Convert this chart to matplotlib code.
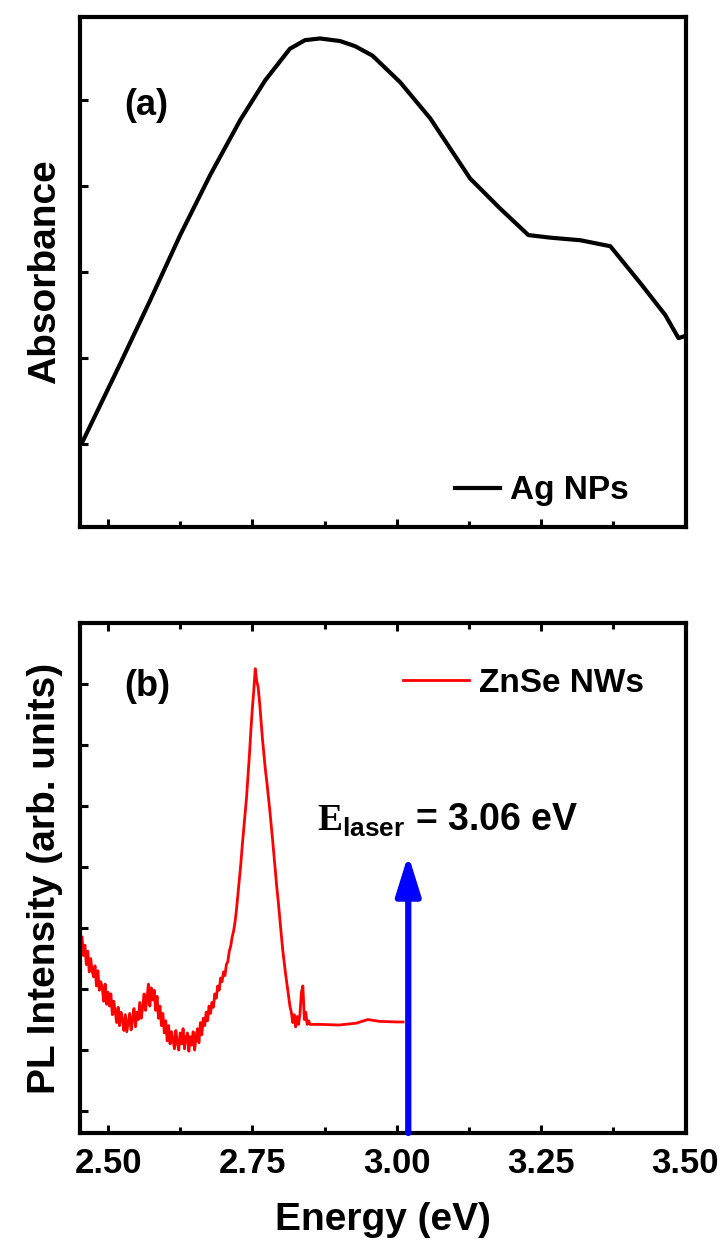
import numpy as np
import matplotlib
matplotlib.use("Agg")
import matplotlib.pyplot as plt
from matplotlib.ticker import MultipleLocator, FormatStrFormatter

plt.rcParams["font.family"] = ["Liberation Sans", "DejaVu Sans"]
plt.rcParams["font.weight"] = "bold"
plt.rcParams["axes.labelweight"] = "bold"
plt.rcParams["mathtext.fontset"] = "custom"
plt.rcParams["mathtext.rm"] = "Liberation Serif"
plt.rcParams["mathtext.bf"] = "Liberation Sans:bold"

# (a) absorbance of Ag NPs
ag_energy = [2.455, 2.521, 2.573, 2.625, 2.677, 2.729, 2.772, 2.815, 2.841, 2.867,
             2.902, 2.928, 2.958, 3.006, 3.058, 3.127, 3.179, 3.228, 3.266, 3.318,
             3.370, 3.422, 3.465, 3.488, 3.502]
ag_abs = [0.01, 0.93, 1.67, 2.43, 3.13, 3.77, 4.23, 4.60, 4.70, 4.72,
          4.69, 4.63, 4.52, 4.21, 3.79, 3.09, 2.74, 2.43, 2.40, 2.37,
          2.30, 1.87, 1.50, 1.23, 1.26]

# (b) PL of ZnSe NWs: noisy part read every 2.5 meV from 2.455 to 2.850 eV
pl_noisy = [2.85, 2.55, 2.72, 2.40, 2.62, 2.28, 2.50, 2.30, 2.20, 2.38,
            2.05, 2.30, 1.98, 2.12, 2.02, 1.80, 2.08, 1.75, 1.95,
            1.72, 1.92, 1.58, 1.80, 1.62, 1.45, 1.70, 1.40, 1.62, 1.50,
            1.32, 1.58, 1.30, 1.45, 1.60, 1.33, 1.52, 1.68, 1.38, 1.62,
            1.50, 1.78, 1.52, 1.70, 1.92, 1.65, 1.85, 2.08, 1.72, 2.02,
            1.82, 1.98, 1.65, 1.88, 1.52, 1.72, 1.40, 1.60, 1.28, 1.48,
            1.15, 1.40, 1.10, 1.30, 1.18, 1.02, 1.32, 1.12, 1.00, 1.28,
            1.10, 1.35, 1.02, 1.20, 1.28, 0.98, 1.22, 1.08, 1.30, 1.00,
            1.22, 1.35, 1.12, 1.45, 1.25, 1.52, 1.40, 1.62, 1.48, 1.72,
            1.60, 1.78, 1.70, 1.92, 1.85, 2.05, 1.98, 2.18, 2.12, 2.28,
            2.22, 2.40, 2.45, 2.62, 2.70, 2.85, 2.95, 3.10, 3.30, 3.55,
            3.80, 4.05, 4.35, 4.62, 4.90, 5.15, 5.50, 5.85, 6.25, 6.60,
            6.90, 7.25, 7.05, 6.95, 6.70, 6.40, 6.10, 5.85, 5.60, 5.40,
            5.18, 4.95, 4.70, 4.45, 4.18, 3.90, 3.65, 3.42, 3.15, 2.90,
            2.65, 2.45, 2.25, 2.08, 1.90, 1.72, 1.62, 1.45, 1.58, 1.38,
            1.55, 1.42, 1.60, 1.95, 2.05, 1.50, 1.62, 1.42, 1.48, 1.42]
pl_energy_noisy = np.linspace(2.455, 2.850, len(pl_noisy))
pl_energy_tail = [2.87, 2.90, 2.93, 2.95, 2.97, 3.00, 3.011]
pl_tail = [1.42, 1.41, 1.44, 1.50, 1.47, 1.46, 1.46]

laser_energy = 3.02
laser_tip = 4.2

W, H = 721, 1248
fig = plt.figure(figsize=(W / 100, H / 100), dpi=100)
ax1 = fig.add_axes([80 / W, 1 - 527 / H, 606 / W, 510 / H])
ax2 = fig.add_axes([80 / W, 1 - 1133 / H, 606 / W, 510 / H])

for ax in (ax1, ax2):
    for s in ax.spines.values():
        s.set_linewidth(3)
    ax.set_xlim(2.4515, 3.501)
    ax.xaxis.set_major_locator(MultipleLocator(0.25))
    ax.xaxis.set_minor_locator(MultipleLocator(0.125))
    ax.xaxis.set_major_formatter(FormatStrFormatter("%.2f"))
    ax.tick_params(which="major", direction="in", length=6, width=2.2)
    ax.tick_params(which="minor", direction="in", length=4, width=2.2)

# top panel
ax1.plot(ag_energy, ag_abs, color="black", lw=3, label="Ag NPs")
ax1.set_ylim(-0.97, 4.97)
ax1.set_yticks(range(5))
ax1.tick_params(axis="both", labelbottom=False, labelleft=False)
ax1.set_ylabel("Absorbance", fontsize=28, labelpad=12)
ax1.text(0.109, 0.827, "(a)", transform=ax1.transAxes, fontsize=26,
         ha="center", va="center")
ax1.legend(loc="center left", bbox_to_anchor=(0.619, 0.0706), frameon=False,
           fontsize=24, handlelength=1.36, handletextpad=0.3,
           borderpad=0, borderaxespad=0)

# bottom panel
ax2.plot(np.concatenate([pl_energy_noisy, pl_energy_tail]), pl_noisy + pl_tail,
         color="red", lw=2.0, label="ZnSe NWs")
ax2.set_ylim(-0.36, 8.0)
ax2.set_yticks(range(8))
ax2.tick_params(axis="x", which="both", top=True)
ax2.tick_params(axis="y", labelleft=False)
ax2.tick_params(axis="x", labelsize=25, pad=10)
ax2.set_xlabel("Energy (eV)", fontsize=28, labelpad=16)
ax2.set_ylabel("PL Intensity (arb. units)", fontsize=28, labelpad=12)
ax2.text(0.111, 0.876, "(b)", transform=ax2.transAxes, fontsize=26,
         ha="center", va="center")
ax2.legend(loc="center left", bbox_to_anchor=(0.533, 0.882), frameon=False,
           fontsize=24, handlelength=1.97, handletextpad=0.3,
           borderpad=0, borderaxespad=0)
ax2.annotate("", xy=(laser_energy, laser_tip), xytext=(laser_energy, -0.36),
             arrowprops=dict(arrowstyle="-|>,head_length=1.6,head_width=0.5",
                             color="blue", lw=4.5, mutation_scale=15,
                             shrinkA=0, shrinkB=0))
ax2.text(2.862, 4.59, r"$\mathrm{E}_{\mathbf{laser}}$ = 3.06 eV", fontsize=27,
         ha="left", va="baseline")

fig.savefig("out.png", dpi=100)
